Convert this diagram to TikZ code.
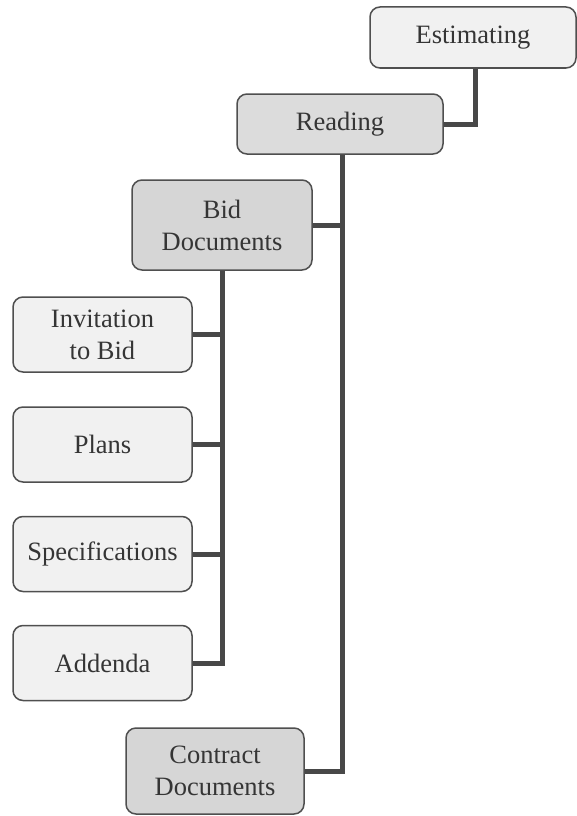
\documentclass[tikz,border=0pt]{standalone}
\usepackage{fontspec}
\setmainfont{Liberation Serif}
\definecolor{bordc}{HTML}{4F4F4F}
\definecolor{txtc}{HTML}{353535}
\definecolor{connc}{HTML}{484848}
\definecolor{lightf}{HTML}{F1F1F1}
\definecolor{midf}{HTML}{DCDCDC}
\definecolor{darkf}{HTML}{D6D6D6}
\tikzset{
  box/.style={draw=bordc, line width=1.5pt, rounded corners=10pt, inner sep=0pt,
    align=center, text=txtc, font=\fontsize{26.5}{32}\selectfont},
  leaf/.style={box, fill=lightf, minimum width=179pt, minimum height=75pt},
  conn/.style={draw=connc, line width=5pt, line join=miter}
}
\begin{document}
\begin{tikzpicture}[x=1pt,y=-1pt]
\useasboundingbox (0,0) rectangle (577,816);
\node[box, fill=lightf, minimum width=206pt, minimum height=61pt] (est) at (473,37.5) {Estimating};
\node[box, fill=midf, minimum width=206pt, minimum height=60pt] (read) at (340,124) {Reading};
\node[box, fill=darkf, minimum width=180pt, minimum height=90pt] (bid) at (222,225) {Bid\\Documents};
\node[leaf] (inv) at (102.5,334.5) {Invitation\\to Bid};
\node[leaf] (plans) at (102.5,444.5) {Plans};
\node[leaf] (spec) at (102.5,554) {Specifications};
\node[leaf] (add) at (102.5,663) {Addenda};
\node[box, fill=darkf, minimum width=178pt, minimum height=86pt] (contract) at (215,771) {Contract\\Documents};
\coordinate (estout) at ([xshift=2pt]est.south);
\coordinate (readout) at ([xshift=2pt]read.south);
\draw[conn] (estout) |- (read.east);
\draw[conn] (readout) |- (contract.east);
\draw[conn] (bid.east) -- (bid.east -| readout);
\draw[conn] (bid.south) |- (add.east);
\draw[conn] (inv.east) -- (inv.east -| bid.south);
\draw[conn] (plans.east) -- (plans.east -| bid.south);
\draw[conn] (spec.east) -- (spec.east -| bid.south);
\end{tikzpicture}
\end{document}
